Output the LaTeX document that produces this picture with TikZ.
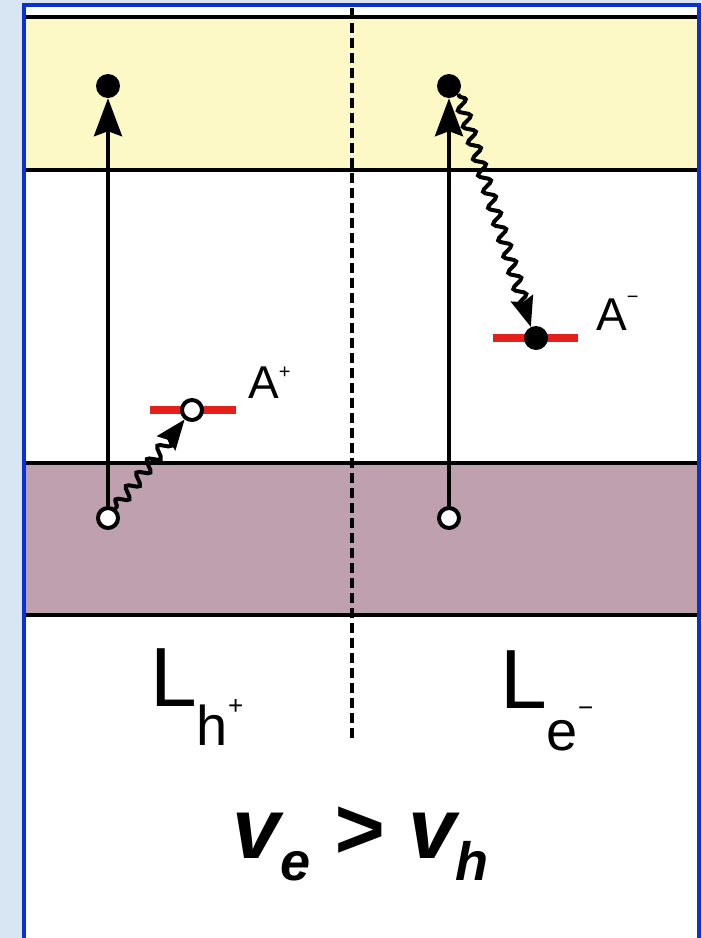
\documentclass[tikz,border=0pt]{standalone}
\usepackage{fontspec}
\setmainfont{Liberation Sans}
\usetikzlibrary{decorations.pathmorphing,arrows.meta}
\definecolor{bgblue}{HTML}{D8E6F4}
\definecolor{frameblue}{HTML}{0A32D2}
\definecolor{cband}{HTML}{FDF9C6}
\definecolor{vband}{HTML}{BFA0AF}
\definecolor{lvl}{HTML}{E5201A}
\begin{document}
\begin{tikzpicture}[x=1pt,y=-1pt,
  bandline/.style={line width=4.5pt,black},
  elec/.style={circle,fill=black,inner sep=0pt,minimum size=24pt},
  hole/.style={circle,fill=white,draw=black,line width=4pt,inner sep=0pt,minimum size=20pt},
  trans/.style={line width=4pt,-{Stealth[length=38pt,width=28pt,inset=5pt]}},
  wavy/.style={line width=4pt,-{Stealth[length=30pt,width=23pt,inset=4pt]},
    decorate,decoration={snake,amplitude=5.5pt,segment length=17pt,pre length=2pt,post length=12pt}},
  level/.style={lvl,line width=8pt},
  lbl/.style={anchor=base west,inner sep=0pt}]
\useasboundingbox (0,0) rectangle (702,938);
\fill[bgblue] (0,0) rectangle (702,938);
\fill[white] (24,5) rectangle (699,938);
\fill[cband] (24,17) rectangle (699,170);
\fill[vband] (24,463) rectangle (699,615);
\draw[bandline] (24,17) -- (699,17);
\draw[bandline] (24,170) -- (699,170);
\draw[bandline] (24,463) -- (699,463);
\draw[bandline] (24,615) -- (699,615);
\draw[frameblue,line width=4.5pt] (24,938) -- (24,5) -- (699,5) -- (699,938);
\draw[line width=4.5pt,dash pattern=on 10pt off 5pt] (352,8) -- (352,738);
% levels
\draw[level] (150,410) -- (236,410);
\draw[level] (493,338) -- (578,338);
% carriers
\node[elec] (e1) at (108,86) {};
\node[elec] (e2) at (449,86) {};
\node[hole] (h1) at (108,518) {};
\node[hole] (h2) at (449,518) {};
\node[hole] (a1) at (192,410) {};
\node[elec] (d2) at (536,338) {};
\draw[trans] (h1) -- (e1);
\draw[trans] (h2) -- (e2);
\draw[wavy] (h1) -- (a1);
\draw[wavy] (e2.-40) -- (d2.115);
% labels
\node[lbl,font=\fontsize{46}{46}\selectfont] (la1) at (248,398) {A\raisebox{20pt}{\fontsize{20}{20}\selectfont +}};
\node[lbl,font=\fontsize{46}{46}\selectfont] (la2) at (596,330) {A\raisebox{27pt}{\fontsize{20}{20}\selectfont \char"2212}};
\node[lbl,font=\fontsize{84}{84}\selectfont] (lh) at (150,706) {L\raisebox{-39pt}{\fontsize{56}{56}\selectfont h}\raisebox{-8pt}{\fontsize{26}{26}\selectfont +}};
\node[lbl,font=\fontsize{84}{84}\selectfont] (le) at (500,708) {L\raisebox{-42pt}{\fontsize{56}{56}\selectfont e}\raisebox{-8pt}{\fontsize{26}{26}\selectfont \char"2212}};
\node[lbl,font=\fontsize{86}{86}\selectfont\bfseries\itshape] (vv) at (232,858) {v\raisebox{-22pt}{\fontsize{54}{54}\selectfont e} > v\raisebox{-22pt}{\fontsize{54}{54}\selectfont h}};
\end{tikzpicture}
\end{document}
